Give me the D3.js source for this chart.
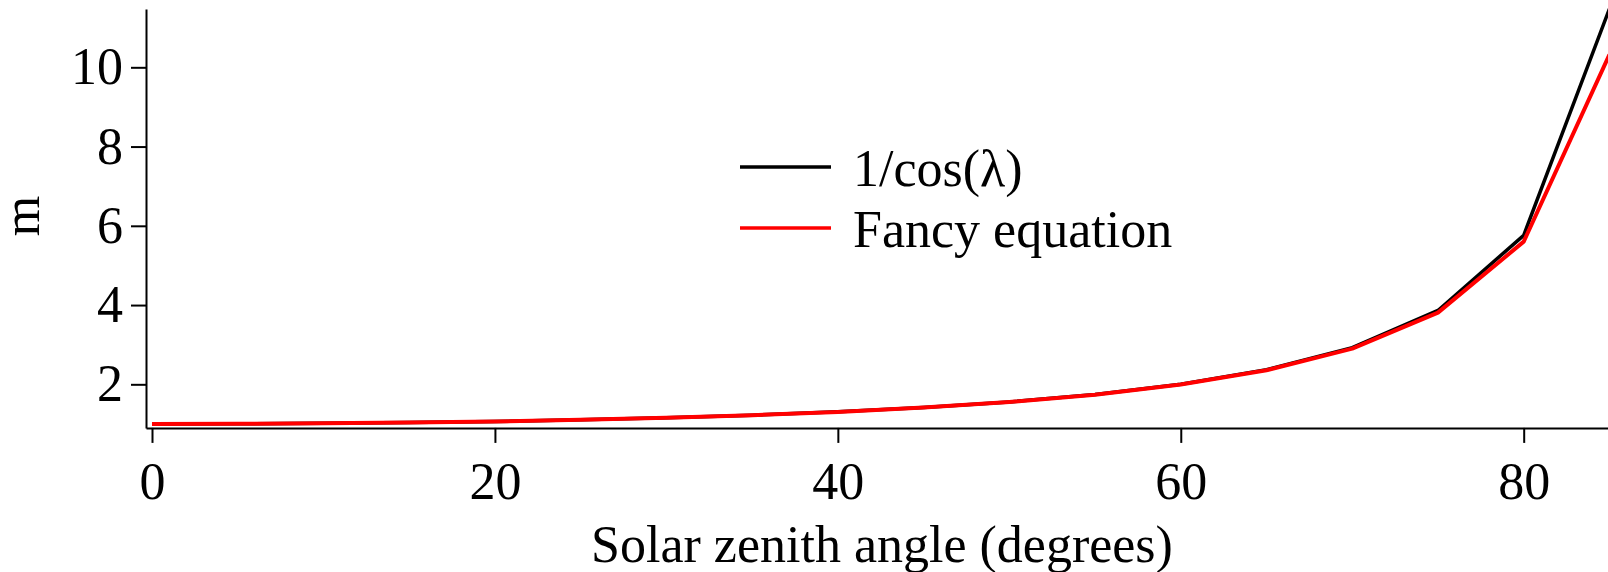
<!DOCTYPE html>
<html>
<head>
<meta charset="utf-8">
<script src="https://cdn.jsdelivr.net/npm/d3@7"></script>
<style>
  body { margin: 0; background: #fff; }
  svg { display: block; }
  text { font-family: "Liberation Serif", "Times New Roman", serif; }
</style>
</head>
<body>
<svg id="chart" width="1608" height="572"></svg>
<script>
// zenith angles (degrees)
const angles = [0, 5, 10, 15, 20, 25, 30, 35, 40, 45, 50, 55, 60, 65, 70, 75, 80, 85];
// 1/cos(lambda)
const secant = [1.000, 1.004, 1.015, 1.035, 1.064, 1.103, 1.155, 1.221, 1.305, 1.414,
                1.556, 1.743, 2.000, 2.366, 2.924, 3.864, 5.759, 11.474];
// fancy equation
const fancy = [1.000, 1.004, 1.015, 1.035, 1.064, 1.103, 1.154, 1.220, 1.304, 1.413,
               1.553, 1.739, 1.994, 2.356, 2.902, 3.809, 5.600, 10.32];
const xTicks = [0, 20, 40, 60, 80];
const yTicks = [2, 4, 6, 8, 10];
const legendLabels = ['1/cos(\u03bb)', 'Fancy equation'];
const colors = ['#000000', '#ff0000'];

const FONTSIZE = 52;

function main(){
    const svg = d3.select('#chart');

    const x = d3.scaleLinear().domain([-0.35, 85.5]).range([146, 1618]);
    const y = d3.scaleLinear().domain([0.9, 11.474]).range([427.9, 8.9]);

    // x axis
    const gx = svg.append('g').attr('transform', `translate(0,${y(0.9)})`)
        .call(d3.axisBottom(x).tickValues(xTicks).tickSize(15).tickSizeOuter(0).tickPadding(19));
    // y axis
    const gy = svg.append('g').attr('transform', `translate(${x(-0.35)},0)`)
        .call(d3.axisLeft(y).tickValues(yTicks).tickSize(15).tickSizeOuter(0).tickPadding(8));

    [gx, gy].forEach(g => {
        g.selectAll('path, line').attr('stroke', '#000').attr('stroke-width', 2);
        g.selectAll('text').attr('font-size', FONTSIZE)
            .attr('font-family', '"Liberation Serif", serif').attr('fill', '#000');
    });

    // axis titles
    svg.append('text').attr('x', 882).attr('y', 562)
        .attr('text-anchor', 'middle').attr('font-size', FONTSIZE)
        .text('Solar zenith angle (degrees)');
    svg.append('text').attr('transform', 'translate(39,216) rotate(-90)')
        .attr('text-anchor', 'middle').attr('font-size', FONTSIZE)
        .text('m');

    // lines
    const line = d3.line().x(d => x(d[0])).y(d => y(d[1]));
    const series = [secant, fancy];
    const widths = [3.5, 4];
    series.forEach((vals, i) => {
        svg.append('path')
            .datum(angles.map((a, j) => [a, vals[j]]))
            .attr('fill', 'none')
            .attr('stroke', colors[i])
            .attr('stroke-width', widths[i])
            .attr('stroke-linejoin', 'round')
            .attr('d', line);
    });

    // legend
    const leg = svg.append('g').selectAll('g').data(legendLabels).enter()
        .append('g').attr('transform', (d, i) => `translate(0,${167 + i * 61})`);
    leg.append('line').attr('x1', 740).attr('x2', 831).attr('y1', 0).attr('y2', 0)
        .attr('stroke', (d, i) => colors[i]).attr('stroke-width', 3.5);
    leg.append('text').attr('x', 853).attr('y', 19)
        .attr('font-size', FONTSIZE).text(d => d);
}

main();
</script>
</body>
</html>
